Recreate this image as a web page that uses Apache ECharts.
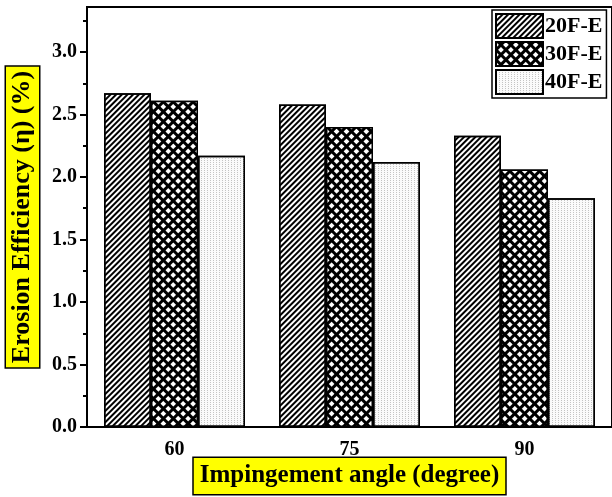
<!DOCTYPE html>
<html>
<head>
<meta charset="utf-8">
<script src="https://cdn.jsdelivr.net/npm/echarts@6/dist/echarts.min.js"></script>
<style>
  html, body { margin: 0; padding: 0; background: #fff; }
  #chart { width: 612px; height: 497px; }
</style>
</head>
<body>
<div id="chart"></div>
<script>
// Impingement angles (degree) on the category axis
const angles = ['60', '75', '90'];

// Erosion efficiency (%) per fibre loading
const eff20 = [2.67, 2.58, 2.33];
const eff30 = [2.61, 2.40, 2.06];
const eff40 = [2.17, 2.12, 1.83];

// Y-axis tick values
const yMajorTicks = [0, 0.5, 1.0, 1.5, 2.0, 2.5, 3.0];
const yMinorTicks = [0.25, 0.75, 1.25, 1.75, 2.25, 2.75, 3.25];

const FONT = "'Liberation Serif', 'Times New Roman', serif";

const chart = echarts.init(document.getElementById('chart'), null, { renderer: 'canvas' });

const barBase = {
  type: 'bar',
  xAxisIndex: 0,
  yAxisIndex: 0,
  barWidth: 47,
  barGap: '0%',
  emphasis: { disabled: true }
};

chart.setOption({
  animation: false,
  backgroundColor: '#fff',
  grid: {
    left: 87, right: 0, top: 7, bottom: 70,
    containLabel: false,
    outerBoundsMode: 'none',
    show: true, borderColor: '#000', borderWidth: 2, backgroundColor: 'transparent'
  },
  legend: {
    orient: 'vertical',
    left: 492, top: 10,
    icon: 'rect',
    itemWidth: 47, itemHeight: 24, itemGap: 2,
    padding: [3, 4, 3, 3],
    borderColor: '#000', borderWidth: 1.5,
    textStyle: { fontFamily: FONT, fontWeight: 'bold', fontSize: 22, lineHeight: 24, color: '#000', padding: [0, 0, 0, -3] },
    data: ['20F-E', '30F-E', '40F-E']
  },
  xAxis: [
    {
      type: 'category',
      data: angles,
      position: 'bottom',
      boundaryGap: true,
      axisLine: { lineStyle: { color: '#000', width: 2 } },
      axisTick: { alignWithLabel: true, length: 7, lineStyle: { color: '#000', width: 2 } },
      axisLabel: { margin: 13, fontFamily: FONT, fontWeight: 'bold', fontSize: 20, color: '#000' },
      name: 'Impingement angle (degree)',
      nameLocation: 'middle',
      nameGap: 31,
      nameMoveOverlap: false,
      nameTextStyle: {
        fontFamily: FONT, fontWeight: 'bold', fontSize: 25, color: '#000',
        backgroundColor: '#ffff00', borderColor: '#000', borderWidth: 1.5,
        padding: [3, 6, 3, 6], lineHeight: 30
      }
    },
    {
      // short ticks on the category boundaries
      type: 'category',
      data: angles,
      position: 'bottom',
      boundaryGap: true,
      axisLine: { show: false },
      axisTick: { alignWithLabel: false, length: 4, lineStyle: { color: '#000', width: 2 } },
      axisLabel: { show: false }
    }
  ],
  yAxis: [
    {
      type: 'value',
      position: 'left',
      min: 0, max: 3.36,
      splitLine: { show: false },
      axisLine: { show: true, lineStyle: { color: '#000', width: 2 } },
      axisTick: { show: true, length: 7, customValues: yMajorTicks, lineStyle: { color: '#000', width: 2 } },
      axisLabel: {
        customValues: yMajorTicks,
        margin: 10,
        fontFamily: FONT, fontWeight: 'bold', fontSize: 20, color: '#000',
        formatter: v => v.toFixed(1)
      },
      name: 'Erosion Efficiency (\u03b7) (%)',
      nameLocation: 'middle',
      nameRotate: 90,
      nameGap: 48,
      nameMoveOverlap: false,
      nameTextStyle: {
        fontFamily: FONT, fontWeight: 'bold', fontSize: 26, color: '#000',
        backgroundColor: '#ffff00', borderColor: '#000', borderWidth: 1.5,
        padding: [2, 4, 2, 4], lineHeight: 29
      }
    },
    {
      // minor ticks halfway between labelled values
      type: 'value',
      position: 'left',
      min: 0, max: 3.36,
      splitLine: { show: false },
      axisLine: { show: false },
      axisTick: { show: true, length: 4, customValues: yMinorTicks, lineStyle: { color: '#000', width: 2 } },
      axisLabel: { show: false }
    }
  ],
  series: [
    Object.assign({}, barBase, {
      name: '20F-E',
      data: eff20,
      itemStyle: {
        color: '#fff', borderColor: '#000', borderWidth: 1.5,
        decal: {
          symbol: 'rect', color: '#000',
          dashArrayX: [1, 0], dashArrayY: [1.5, 1.4],
          rotation: -Math.PI / 4
        }
      }
    }),
    Object.assign({}, barBase, {
      name: '30F-E',
      data: eff30,
      itemStyle: {
        color: '#000', borderColor: '#000', borderWidth: 1.5,
        decal: {
          symbol: 'rect', color: '#fff',
          dashArrayX: [3.6, 2.4], dashArrayY: [3.6, 2.4],
          rotation: Math.PI / 4
        }
      }
    }),
    Object.assign({}, barBase, {
      name: '40F-E',
      data: eff40,
      itemStyle: {
        color: '#fbfbfb', borderColor: '#000', borderWidth: 1.5,
        decal: {
          symbol: 'rect', color: '#c4c4c4',
          dashArrayX: [1, 2], dashArrayY: [1, 1],
          rotation: 0
        }
      }
    })
  ]
});
</script>
</body>
</html>
